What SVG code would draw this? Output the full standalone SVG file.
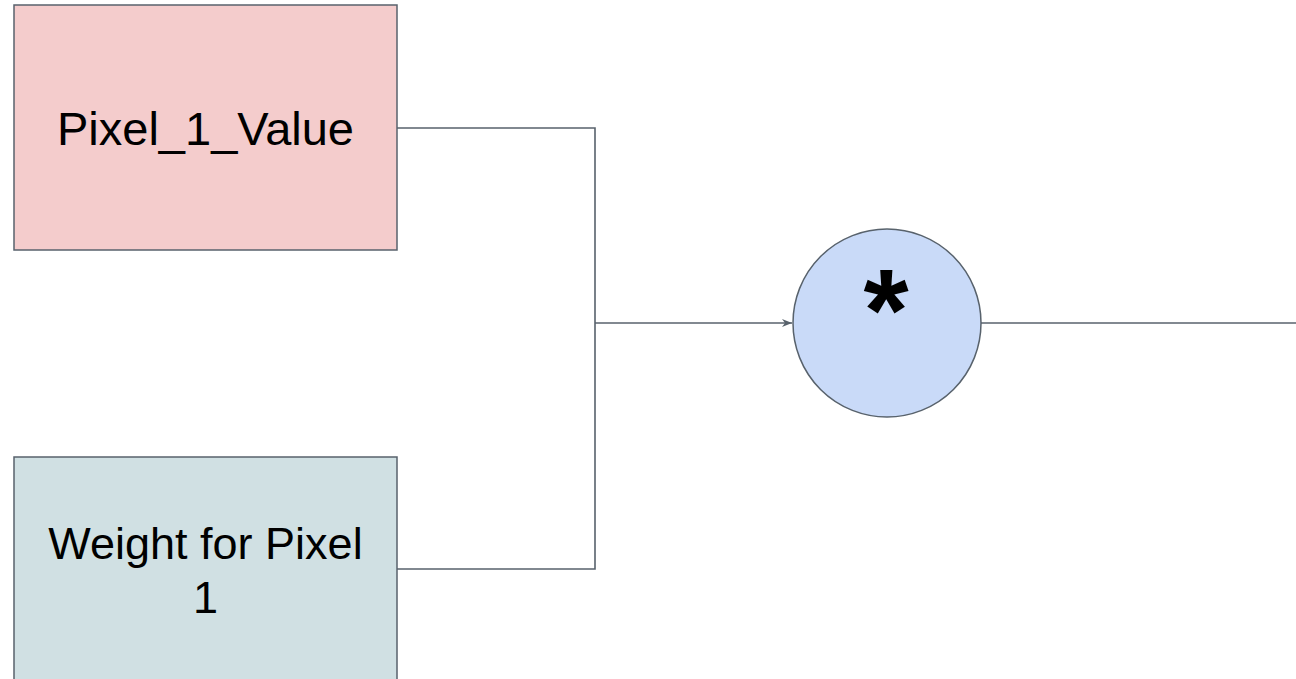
<svg xmlns="http://www.w3.org/2000/svg" width="1296" height="679" viewBox="0 0 1296 679">
  <defs>
    <marker id="arrow" viewBox="0 0 10 10" refX="10" refY="5" markerWidth="10" markerHeight="10" markerUnits="userSpaceOnUse" orient="auto">
      <path d="M0,1 L10,5 L0,9 L3,5 Z" fill="#58626c"/>
    </marker>
  </defs>
  <style>
    .node { stroke: #58626c; stroke-width: 1.5; }
    .label { font-family: "Liberation Sans", Arial, sans-serif; font-size: 45px; fill: #000; text-anchor: middle; }
    .wire { fill: none; stroke: #58626c; stroke-width: 1.6; }
  </style>
  <rect width="1296" height="679" fill="#ffffff"/>

  <g id="connectors">
    <polyline class="wire" points="397,128 595,128 595,569 397,569"/>
    <line class="wire" x1="595" y1="323" x2="792" y2="323" marker-end="url(#arrow)"/>
    <line class="wire" x1="981" y1="323" x2="1296" y2="323"/>
  </g>

  <g id="pixel-value">
    <rect class="node" x="14" y="5" width="383" height="245" fill="#f4cccc"/>
    <text class="label" x="205.5" y="145" style="font-size:47px">Pixel_1_Value</text>
  </g>

  <g id="pixel-weight">
    <rect class="node" x="14" y="457" width="383" height="240" fill="#d0e0e3"/>
    <text class="label" x="205.5" y="559">Weight for Pixel</text>
    <text class="label" x="205.5" y="613">1</text>
  </g>

  <g id="multiply">
    <circle class="node" cx="887" cy="323" r="94" fill="#c9daf8"/>
    <text class="label" x="886" y="351" style="font-weight:bold;font-size:116px">*</text>
  </g>
</svg>
